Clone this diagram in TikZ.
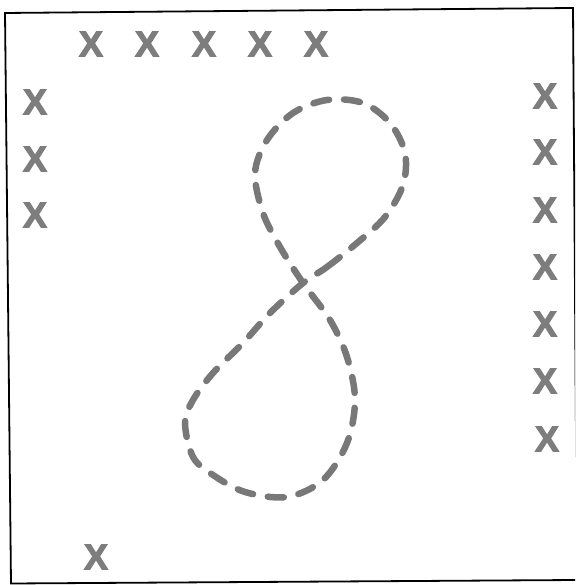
\documentclass[tikz,border=0pt]{standalone}
\usepackage{fontspec}
\setmainfont{Liberation Sans}
\newfontfamily\xfont{Liberation Sans}[UprightFont=*-Bold, FakeBold=3]
\definecolor{markgray}{RGB}{125,125,125}
\definecolor{curvegray}{RGB}{120,120,120}
\tikzset{
  xmark/.style={inner sep=0pt, text=markgray, font=\xfont\fontsize{36}{36}\selectfont},
  eightpath/.style={draw=curvegray, line width=6.5pt, line cap=round, dash pattern=on 16pt off 15pt},
  frame/.style={draw=black, line width=1.8pt}
}
\begin{document}
\begin{tikzpicture}[x=1pt,y=1pt]
\useasboundingbox (0,0) rectangle (575,585);
\begin{scope}
\clip (0,0) rectangle (575,585);
\draw[frame] (5,572) -- (573,577) -- (577,5) -- (11,1.5) -- cycle;
\end{scope}
% top row
\node[xmark] (t1) at (91,541) {X};
\node[xmark] (t2) at (147,541) {X};
\node[xmark] (t3) at (204,541) {X};
\node[xmark] (t4) at (260,541) {X};
\node[xmark] (t5) at (316,541) {X};
% left column
\node[xmark] (l1) at (35,483) {X};
\node[xmark] (l2) at (35,426) {X};
\node[xmark] (l3) at (35,370) {X};
% right column
\node[xmark] (r1) at (545,489) {X};
\node[xmark] (r2) at (545,433) {X};
\node[xmark] (r3) at (545,375) {X};
\node[xmark] (r4) at (545,318) {X};
\node[xmark] (r5) at (545,261) {X};
\node[xmark] (r6) at (545,204) {X};
\node[xmark] (r7) at (547,146) {X};
% bottom
\node[xmark] (b1) at (96,28) {X};
% figure eight
\draw[eightpath] plot[smooth cycle, tension=0.55] coordinates {
  (303,302) (327,318) (357,342) (385,368) (403,400) (405,432) (390,462)
  (363,482) (327,485) (293,472) (267,445) (255,412) (263,372) (280,338)
  (303,302) (330,265) (347,228) (355,185) (347,142) (323,105) (287,88)
  (245,93) (213,110) (193,128) (185,162) (193,185) (213,212) (243,242) (270,272)
};
\end{tikzpicture}
\end{document}
